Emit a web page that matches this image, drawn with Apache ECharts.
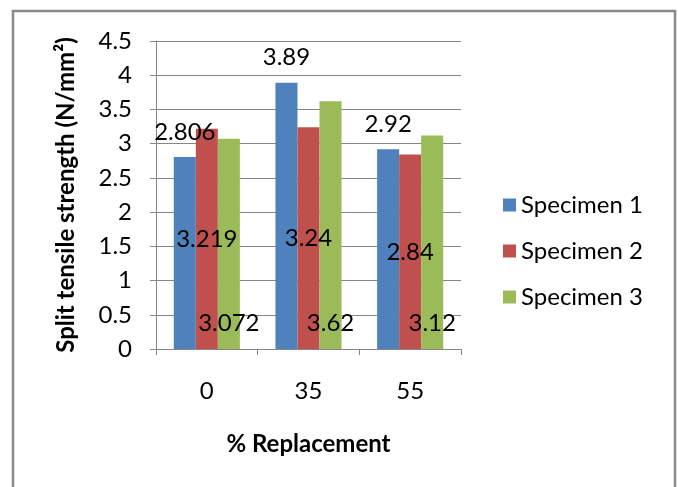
<!DOCTYPE html>
<html>
<head>
<meta charset="utf-8">
<script src="https://cdn.jsdelivr.net/npm/echarts@6/dist/echarts.min.js"></script>
<style>
html,body{margin:0;padding:0;background:#fff;}
#chart{width:678px;height:487px;}
</style>
</head>
<body>
<div id="chart"></div>
<script>
const categories = ['0', '35', '55'];
const specimen1 = [2.806, 3.89, 2.92];
const specimen2 = [3.219, 3.24, 2.84];
const specimen3 = [3.072, 3.62, 3.12];
const seriesNames = ['Specimen 1', 'Specimen 2', 'Specimen 3'];
const yTicks = { min: 0, max: 4.5, interval: 0.5 };

const FONT = 'Lato, "Liberation Sans", sans-serif';
const FS = 24;
const chart = echarts.init(document.getElementById('chart'));
const labelBase = { show: true, color: '#000', fontSize: FS, fontFamily: FONT };

chart.setOption({
  animation: false,
  backgroundColor: '#fff',
  textStyle: { fontFamily: FONT },
  graphic: [{
    type: 'rect',
    shape: { x: 13, y: 11, width: 662, height: 500 },
    style: { fill: 'none', stroke: '#8a8a8a', lineWidth: 2.5 },
    silent: true
  }],
  grid: { left: 156, right: 217, top: 41, bottom: 138 },
  legend: {
    orient: 'vertical',
    left: 498,
    top: 188,
    itemWidth: 13,
    itemHeight: 13,
    itemGap: 22,
    icon: 'rect',
    textStyle: { fontSize: FS, color: '#000', fontFamily: FONT },
    data: seriesNames
  },
  xAxis: {
    type: 'category',
    data: categories,
    name: '% Replacement',
    nameLocation: 'middle',
    nameGap: 83,
    nameTextStyle: { fontSize: FS, fontWeight: 'bold', color: '#000', fontFamily: FONT },
    axisLine: { lineStyle: { color: '#868686', width: 1 } },
    axisTick: { show: true, length: 6, lineStyle: { color: '#868686' } },
    axisLabel: { fontSize: FS, color: '#000', margin: 30, fontFamily: FONT }
  },
  yAxis: {
    type: 'value',
    min: yTicks.min,
    max: yTicks.max,
    interval: yTicks.interval,
    name: 'Split tensile strength (N/mm²)',
    nameLocation: 'middle',
    nameGap: 78,
    nameTextStyle: { fontSize: FS, fontWeight: 'bold', color: '#000', fontFamily: FONT },
    axisLine: { show: true, lineStyle: { color: '#868686', width: 1 } },
    axisTick: { show: true, length: 6, lineStyle: { color: '#868686' } },
    axisLabel: { fontSize: FS, color: '#000', margin: 24, fontFamily: FONT },
    splitLine: { show: true, lineStyle: { color: '#868686', width: 1 } }
  },
  series: [
    {
      name: seriesNames[0], type: 'bar', data: specimen1,
      itemStyle: { color: '#4F81BD' },
      barGap: '0%', barCategoryGap: '35%',
      label: Object.assign({}, labelBase, { position: 'top', distance: 13 })
    },
    {
      name: seriesNames[1], type: 'bar', data: specimen2,
      itemStyle: { color: '#C0504D' },
      barGap: '0%', barCategoryGap: '35%',
      label: Object.assign({}, labelBase, { position: 'inside' })
    },
    {
      name: seriesNames[2], type: 'bar', data: specimen3,
      itemStyle: { color: '#9BBB59' },
      barGap: '0%', barCategoryGap: '35%',
      label: Object.assign({}, labelBase, { position: 'insideBottom', distance: 14 })
    }
  ]
});
</script>
</body>
</html>
